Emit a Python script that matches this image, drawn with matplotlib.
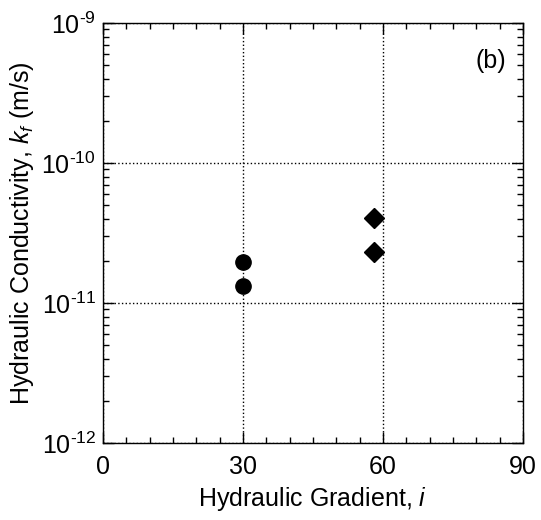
import matplotlib.pyplot as plt
from matplotlib.ticker import MultipleLocator, LogLocator, NullFormatter, FuncFormatter
import numpy as np

plt.rcParams['font.family'] = ['Liberation Sans', 'DejaVu Sans']
plt.rcParams['mathtext.fontset'] = 'custom'
plt.rcParams['mathtext.rm'] = 'Liberation Sans'
plt.rcParams['mathtext.it'] = 'Liberation Sans:italic'

# datos
gradiente_circulos = [30, 30]
k_circulos = [1.96e-11, 1.32e-11]
gradiente_rombos = [58, 58]
k_rombos = [4.05e-11, 2.31e-11]

fig = plt.figure(figsize=(5.41, 5.20), dpi=100)
ax = fig.add_axes([103/541, 1 - 443/520, 420/541, 420/520])

ax.plot(gradiente_circulos, k_circulos, 'o', color='black', markersize=11, zorder=3)
ax.plot(gradiente_rombos, k_rombos, 'D', color='black', markersize=10, zorder=3)

ax.set_yscale('log')
ax.set_xlim(0, 90)
ax.set_ylim(1e-12, 1e-9)

def etiqueta_log(v, pos):
    e = int(round(np.log10(v)))
    return '10$^{\\text{%d}}$' % e

ax.xaxis.set_major_locator(MultipleLocator(30))
ax.xaxis.set_minor_locator(MultipleLocator(5))
ax.yaxis.set_major_locator(LogLocator(base=10, numticks=10))
ax.yaxis.set_major_formatter(FuncFormatter(etiqueta_log))
ax.yaxis.set_minor_locator(LogLocator(base=10, subs=range(2, 10), numticks=10))
ax.yaxis.set_minor_formatter(NullFormatter())

ax.tick_params(which='both', direction='in', top=True, right=True, labelsize=18, width=1)
ax.tick_params(which='major', length=8)
ax.tick_params(axis='x', which='major', pad=9)
ax.tick_params(axis='y', which='major', pad=5)
ax.tick_params(which='minor', length=4)

for s in ax.spines.values():
    s.set_linewidth(1)

ax.grid(True, which='major', linestyle=':', color='black', linewidth=1)

ax.set_xlabel('Hydraulic Gradient, $\\mathit{i}$', fontsize=18, labelpad=4)
ax.set_ylabel('Hydraulic Conductivity, $\\mathit{k}_{\\mathit{f}}$ (m/s)', fontsize=18, labelpad=4)
ax.text(0.96, 0.91, '(b)', transform=ax.transAxes, ha='right', va='center', fontsize=18)

fig.savefig('out.png', dpi=100)
